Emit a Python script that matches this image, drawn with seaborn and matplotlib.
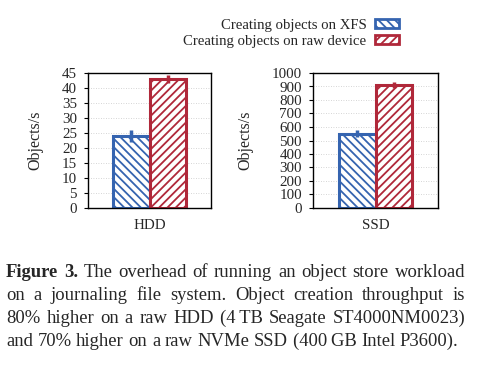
import matplotlib
matplotlib.use("Agg")
import matplotlib.pyplot as plt
import seaborn as sns
import pandas as pd
import numpy as np
from matplotlib.patches import Patch

# ---- data ----
devices = ["HDD", "SSD"]
series = ["Creating objects on XFS", "Creating objects on raw device"]
hdd_values = [24, 43]
hdd_errors = [2.0, 1.5]
ssd_values = [550, 910]
ssd_errors = [25, 22]
hdd_ticks = list(range(0, 46, 5))
ssd_ticks = list(range(0, 1001, 100))

colors = ["#3564b0", "#b0283a"]
hatches = ["\\\\\\\\", "////"]

sns.set_theme(style="white")
plt.rcParams["font.family"] = ["Liberation Serif", "DejaVu Serif"]
plt.rcParams["hatch.linewidth"] = 1.3

fig = plt.figure(figsize=(4.8, 3.68), dpi=100)
W, H = 480, 368

def axes_px(x0, x1, y0, y1):
    return fig.add_axes([x0 / W, 1 - y1 / H, (x1 - x0) / W, (y1 - y0) / H])

ax1 = axes_px(88, 211, 73, 208)
ax2 = axes_px(313, 438, 73, 208)

panels = [
    (ax1, "HDD", hdd_values, hdd_errors, hdd_ticks),
    (ax2, "SSD", ssd_values, ssd_errors, ssd_ticks),
]

for ax, dev, vals, errs, ticks in panels:
    df = pd.DataFrame({"device": [dev] * len(series), "series": series, "value": vals})
    sns.barplot(data=df, x="device", y="value", hue="series", hue_order=series,
                palette=colors, ax=ax, errorbar=None, width=0.8, legend=False)
    bars = [p for p in ax.patches]
    for i, p in enumerate(bars):
        p.set_facecolor("white")
        p.set_edgecolor(colors[i])
        p.set_hatch(hatches[i])
        p.set_linewidth(2.2)
        cx = p.get_x() + p.get_width() / 2
        ax.errorbar(cx, vals[i], yerr=errs[i], color=colors[i], lw=2.5,
                    capsize=0, zorder=5)
    ax.set_ylim(0, ticks[-1])
    ax.set_yticks(ticks)
    ax.set_yticklabels([str(t) for t in ticks])
    ax.set_xlim(-0.68, 0.68)
    ax.set_xlabel("")
    ax.set_ylabel("Objects/s", fontsize=11.5)
    ax.tick_params(axis="y", labelsize=10.8, length=3, width=0.8, pad=5,
                   direction="out", color="black", left=True)
    ax.tick_params(axis="x", labelsize=10.8, length=0, pad=8)
    for s in ax.spines.values():
        s.set_color("black")
        s.set_linewidth(1.0)
    ax.yaxis.grid(True, linestyle=(0, (1, 2)), color="#c8c8c8", lw=0.6)
    ax.set_axisbelow(True)

ax1.yaxis.set_label_coords((43 - 88) / 123, 0.5)
ax2.yaxis.set_label_coords((253 - 313) / 125, 0.5)

# legend
handles = [Patch(facecolor="white", edgecolor=colors[i], hatch=hatches[i], linewidth=2.0)
           for i in range(2)]
fig.legend(handles, series, loc="upper right", bbox_to_anchor=(399 / W, 1 - 19 / H),
           frameon=False, fontsize=10.6, markerfirst=False, handlelength=1.6,
           handleheight=0.6, handletextpad=0.6, labelspacing=0.2, borderpad=0,
           borderaxespad=0)

# caption (justified lines, last line ragged)
cap_lines = [
    [("Figure", True), ("3.", True), ("The", False), ("overhead", False), ("of", False),
     ("running", False), ("an", False), ("object", False), ("store", False), ("workload", False)],
    [(w, False) for w in "on a journaling file system. Object creation throughput is".split(" ")],
    [(w, False) for w in "80% higher on a raw HDD (4\u2009TB Seagate ST4000NM0023)".split(" ")],
    [(w, False) for w in "and 70% higher on a raw NVMe SSD (400\u2009GB Intel P3600).".split(" ")],
]
baselines = [277, 300, 323, 346]
cap_fs = 13.45
x_left, x_right = 6, 465
renderer = fig.canvas.get_renderer()
for li, (words, b) in enumerate(zip(cap_lines, baselines)):
    ypos = 1 - b / H
    texts = []
    widths = []
    for w, bold in words:
        t = fig.text(0, ypos, w, fontsize=cap_fs, fontweight="bold" if bold else "normal",
                     va="baseline", ha="left")
        texts.append(t)
        widths.append(t.get_window_extent(renderer=renderer).width)
    if li < len(cap_lines) - 1:
        gap = (x_right - x_left - sum(widths)) / (len(words) - 1)
    else:
        sp = fig.text(0, ypos, "a a", fontsize=cap_fs)
        sp2 = fig.text(0, ypos, "aa", fontsize=cap_fs)
        gap = (sp.get_window_extent(renderer=renderer).width
               - sp2.get_window_extent(renderer=renderer).width)
        sp.remove()
        sp2.remove()
    x = x_left
    for t, wd in zip(texts, widths):
        t.set_x(x / W)
        x += wd + gap

fig.savefig("out.png", dpi=100)
